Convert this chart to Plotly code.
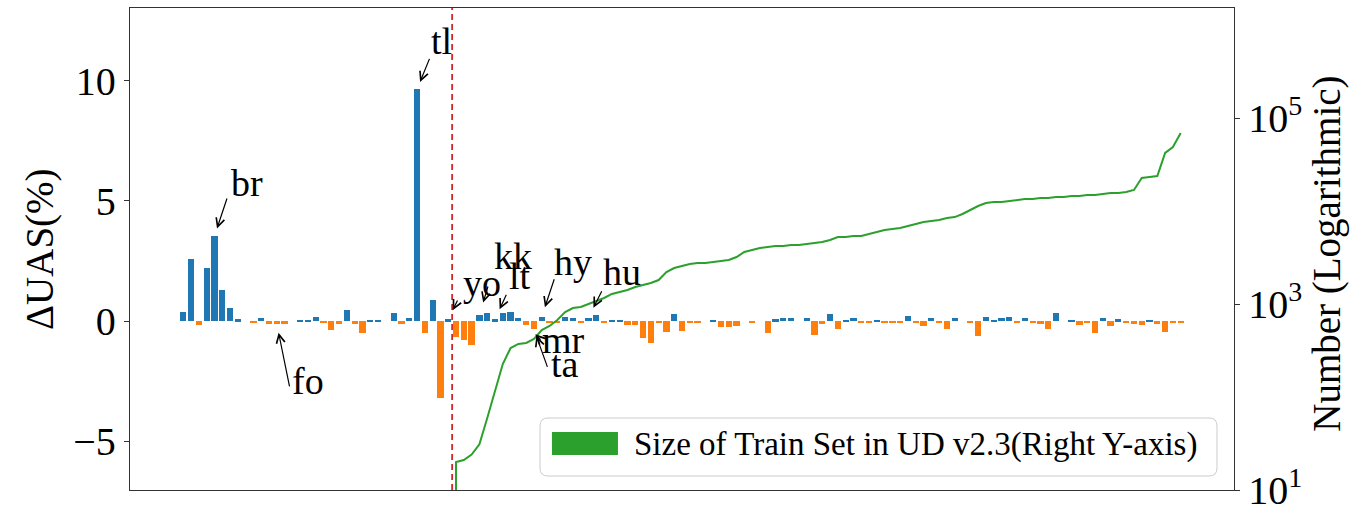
import numpy as np
import plotly.graph_objects as go

# Per-language change in UAS (%), ordered by training-set size
delta_uas = [
    0.36, 2.58, -0.15, 2.20, 3.54, 1.30, 0.55, 0.07, 0.00, -0.05,
    0.11, -0.12, -0.12, -0.14, 0.00, 0.03, 0.05, 0.18, -0.10, -0.37,
    -0.12, 0.46, -0.14, -0.49, 0.03, 0.03, 0.00, 0.32, -0.14, 0.14,
    9.65, -0.51, 0.86, -3.22, 0.08, -0.65, -0.77, -1.00, 0.25, 0.32,
    0.07, 0.32, 0.36, 0.11, -0.17, -0.35, 0.18, -0.08, -0.06, 0.18,
    0.14, -0.10, 0.14, 0.25, -0.07, 0.03, 0.03, -0.16, -0.16, -0.70,
    -0.90, -0.10, -0.47, 0.28, -0.42, -0.06, -0.06, 0.00, 0.06, -0.24,
    -0.24, -0.20, 0.00, -0.10, 0.00, -0.48, 0.07, 0.12, 0.12, 0.00,
    0.12, -0.60, -0.13, 0.28, -0.35, 0.04, 0.12, -0.09, -0.05, 0.04,
    -0.10, -0.05, -0.05, 0.19, -0.10, -0.21, 0.14, -0.10, -0.34, 0.14,
    0.00, -0.09, -0.61, 0.18, 0.05, 0.11, 0.18, -0.05, 0.11, -0.10,
    -0.12, -0.35, 0.32, 0.00, 0.04, -0.17, -0.10, -0.51, 0.14, -0.20,
    0.08, -0.10, -0.14, -0.17, 0.04, -0.12, -0.44, -0.10, -0.05,
]

# Number of training sentences in UD v2.3 (0 = no training set)
train_size = [0] * 35 + [
    20, 21, 24, 31, 59, 119, 226, 336, 372, 381,
    421, 525, 580, 673, 820, 906, 929, 1000, 1077, 1161,
    1282, 1346, 1416, 1524, 1601, 1682, 1811, 2208, 2439, 2563,
    2692, 2761, 2761, 2831, 2900, 2972, 3200, 3624, 3808, 4000,
    4103, 4207, 4207, 4307, 4307, 4416, 4529, 4645, 4875, 5248,
    5248, 5383, 5383, 5662, 5943, 6252, 6397, 6561, 6902, 7244,
    7621, 7798, 7998, 8414, 8610, 9290, 10257, 11324, 12190, 12503,
    12503, 12823, 13122, 13459, 13459, 13804, 13804, 14158, 14158, 14488,
    14488, 14859, 14859, 15241, 15631, 15631, 15996, 16827, 22646, 23227,
    23768, 42073, 48753, 69024,
]

# Highlighted languages and their positions in the ordering
label_names = ["br", "tl", "fo", "yo", "kk", "lt", "hy", "hu", "mr", "ta"]
label_index = [4, 30, 12, 34, 38, 40, 46, 52, 44, 45]

right_ticks = [1e1, 1e3, 1e5]
right_tick_text = ["10<sup>1</sup>", "10<sup>3</sup>", "10<sup>5</sup>"]
left_ticks = [-5, 0, 5, 10]

# ---------------------------------------------------------------------------
FONT = "Liberation Serif"
BLUE, ORANGE, GREEN, RED = "#1f77b4", "#ff7f0e", "#2ca02c", "#d62728"
FRAME = "#333333"

n = len(delta_uas)
idx = np.arange(n)
delta = np.array(delta_uas)
train = np.array(train_size, dtype=float)

bar_colors = [BLUE if v >= 0 else ORANGE for v in delta]
# non-positive sizes are clipped far below the log axis (drawn as a drop-off)
train_plot = np.where(train > 0, train, 1e-100)
split = np.sum(train == 0) - 0.5

# x range: bars of width 0.8 with 5% padding on each side
span = (n - 1) + 0.8
x_lo = -0.4 - 0.05 * span
x_hi = (n - 1) + 0.4 + 0.05 * span

fig = go.Figure()
fig.add_trace(go.Bar(
    x=idx, y=delta, width=0.8,
    marker=dict(color=bar_colors, line=dict(width=0)),
    showlegend=False,
))
fig.add_trace(go.Scatter(
    x=idx, y=train_plot, yaxis="y2", mode="lines",
    line=dict(color=GREEN, width=2),
    showlegend=False,
))

# boundary between languages without / with a training set
fig.add_shape(type="line", xref="x", yref="paper", x0=split, x1=split, y0=0, y1=1,
              line=dict(color=RED, width=1.8, dash="6px,4px"))

# label placement: text offset and arrow tail offset (pixels), arrow standoff
placement = {
    "br": dict(tx=33, ty=53, ax=13, ay=-39, so=8),
    "tl": dict(tx=24, ty=48, ax=13, ay=-32, so=8),
    "fo": dict(tx=31, ty=-57, ax=13, ay=64, so=9),
    "yo": dict(tx=34, ty=36, ax=10, ay=-20, so=10),
    "kk": dict(tx=34, ty=59, ax=9, ay=-30, so=13),
    "lt": dict(tx=25, ty=43, ax=12, ay=-26, so=11),
    "hy": dict(tx=31, ty=55, ax=13, ay=-39, so=10),
    "hu": dict(tx=34, ty=46, ax=14, ay=-28, so=11),
    "mr": dict(tx=37, ty=-15, ax=16, ay=16, so=13),
    "ta": dict(tx=31, ty=-35, ax=14, ay=39, so=7),
}
for name, i in zip(label_names, label_index):
    p = placement[name]
    fig.add_annotation(x=i, y=delta_uas[i], xref="x", yref="y", text="",
                       showarrow=True, arrowhead=5, arrowsize=1.4, arrowwidth=1.2,
                       arrowcolor="black", ax=p["ax"], ay=p["ay"], standoff=p["so"],
                       font=dict(size=1))
    fig.add_annotation(x=i, y=delta_uas[i], xref="x", yref="y", text=name,
                       showarrow=False, xshift=p["tx"], yshift=p["ty"],
                       xanchor="center", yanchor="middle",
                       font=dict(family=FONT, size=38, color="black"))

# axis titles
fig.add_annotation(xref="paper", yref="paper", x=-0.0815, y=0.50, text="ΔUAS(%)",
                   textangle=-90, showarrow=False, xanchor="center", yanchor="middle",
                   font=dict(family=FONT, size=39, color="black"))
fig.add_annotation(xref="paper", yref="paper", x=1.0842, y=0.49, text="Number (Logarithmic)",
                   textangle=-90, showarrow=False, xanchor="center", yanchor="middle",
                   font=dict(family=FONT, size=39, color="black"))

# legend box
bx0, bx1, by0, by1 = 0.3714, 0.9846, 0.029, 0.1494
rx, ry = 0.0072, 0.0166
legend_path = (
    f"M{bx0 + rx},{by0} L{bx1 - rx},{by0} Q{bx1},{by0} {bx1},{by0 + ry} "
    f"L{bx1},{by1 - ry} Q{bx1},{by1} {bx1 - rx},{by1} "
    f"L{bx0 + rx},{by1} Q{bx0},{by1} {bx0},{by1 - ry} "
    f"L{bx0},{by0 + ry} Q{bx0},{by0} {bx0 + rx},{by0} Z"
)
fig.add_shape(type="path", xref="paper", yref="paper", path=legend_path,
              fillcolor="rgba(255,255,255,0.8)", line=dict(color="#cccccc", width=1))
fig.add_shape(type="rect", xref="paper", yref="paper",
              x0=0.3822, x1=0.4420, y0=0.0726, y1=0.1203,
              fillcolor=GREEN, line=dict(width=0))
fig.add_annotation(xref="paper", yref="paper", x=0.4547, y=0.0954,
                   text="Size of Train Set in UD v2.3(Right Y-axis)",
                   showarrow=False, xanchor="left", yanchor="middle",
                   font=dict(family=FONT, size=33, color="black"))

fig.update_layout(
    width=1365, height=514,
    margin=dict(l=130, r=131, t=8, b=24, autoexpand=False),
    paper_bgcolor="white", plot_bgcolor="white",
    bargap=0,
    font=dict(family=FONT, color="black"),
    xaxis=dict(range=[x_lo, x_hi], showticklabels=False, ticks="",
               showline=True, mirror=True, linecolor=FRAME, linewidth=1.3,
               showgrid=False, zeroline=False, automargin=False),
    yaxis=dict(range=[-7.04, 13.04], tickvals=left_ticks, ticks="outside",
               ticklen=5, tickwidth=1.2, tickcolor=FRAME,
               showline=True, mirror=True, linecolor=FRAME, linewidth=1.3,
               showgrid=False, zeroline=False, automargin=False,
               tickfont=dict(family=FONT, size=40, color="black")),
    yaxis2=dict(type="log", range=[1, 6.183], overlaying="y", side="right",
                tickvals=right_ticks, ticktext=right_tick_text,
                ticks="outside", ticklen=5, tickwidth=1.2, tickcolor=FRAME,
                showline=True, linecolor=FRAME, linewidth=1.3,
                showgrid=False, zeroline=False, automargin=False,
                tickfont=dict(family=FONT, size=40, color="black")),
)

fig.write_html("out.html")
